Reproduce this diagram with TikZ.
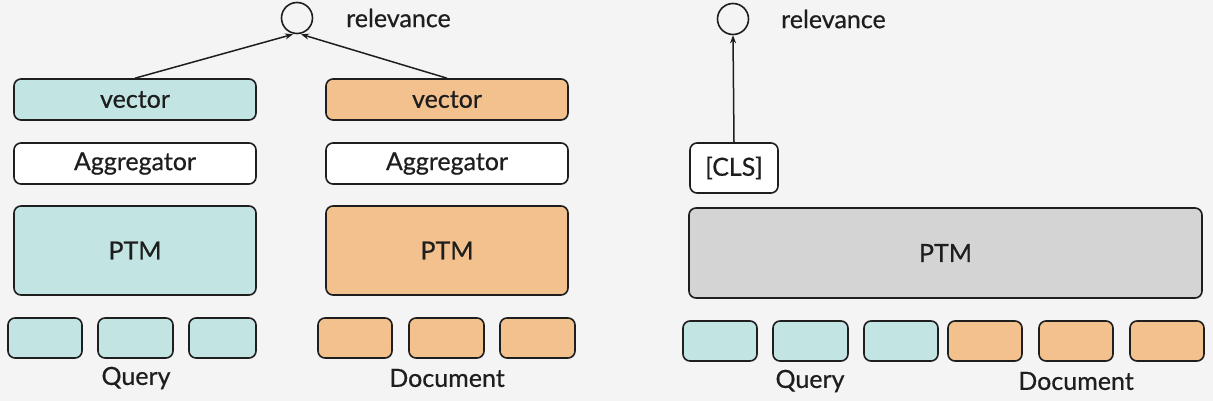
\documentclass[tikz,border=0pt]{standalone}
\usepackage{fontspec}
\setmainfont[FakeBold=0.6,AutoFakeBold=0.6]{Lato}
\usetikzlibrary{arrows.meta}
\definecolor{bgc}{HTML}{F4F4F4}
\definecolor{teal}{HTML}{C2E5E4}
\definecolor{orng}{HTML}{F3C18D}
\definecolor{grayf}{HTML}{D4D4D4}
\definecolor{ink}{HTML}{1E1E1E}
\begin{document}
\begin{tikzpicture}[x=1pt,y=-1pt,
  box/.style={draw=ink,line width=1.6pt,rounded corners=7pt,inner sep=0pt,font=\fontsize{25}{27}\selectfont,text=ink},
  tok/.style={box,minimum height=40pt},
  lbl/.style={font=\fontsize{25}{27}\selectfont,text=ink,inner sep=0pt},
  circ/.style={draw=ink,line width=1.6pt,circle,minimum size=31pt,inner sep=0pt},
  arr/.style={draw=ink,line width=1.5pt,-{Stealth[length=8pt,width=6pt]}}]
\fill[bgc] (0,0) rectangle (1213,401);
\useasboundingbox (0,0) rectangle (1213,401);
% left panel
\node[circ] (c1) at (297,18) {};
\node[lbl,anchor=west] (r1) at (346,18) {relevance};
\node[box,fill=teal,minimum width=242pt,minimum height=41pt] (vq) at (135,99.5) {vector};
\node[box,fill=orng,minimum width=242pt,minimum height=41pt] (vd) at (447,99.5) {vector};
\node[box,fill=white,minimum width=242pt,minimum height=41pt] (aq) at (135,163.5) {Aggregator};
\node[box,fill=white,minimum width=242pt,minimum height=41pt] (ad) at (447,163.5) {Aggregator};
\node[box,fill=teal,minimum width=242pt,minimum height=89pt] (pq) at (135,250.5) {PTM};
\node[box,fill=orng,minimum width=242pt,minimum height=89pt] (pd) at (447,250.5) {PTM};
\node[tok,fill=teal,minimum width=74pt] (q1) at (45,338) {};
\node[tok,fill=teal,minimum width=75pt] (q2) at (135.5,338) {};
\node[tok,fill=teal,minimum width=67pt] (q3) at (222.5,338) {};
\node[tok,fill=orng,minimum width=74pt] (d1) at (355,338) {};
\node[tok,fill=orng,minimum width=75pt] (d2) at (446.5,338) {};
\node[tok,fill=orng,minimum width=75pt] (d3) at (537.5,338) {};
\node[lbl] (ql) at (136,378) {Query};
\node[lbl] (dl) at (447,378) {Document};
\draw[arr] (vq.north) -- ([xshift=-4pt]c1.south);
\draw[arr] (vd.north) -- ([xshift=4pt]c1.south);
% right panel
\node[circ] (c2) at (733,19) {};
\node[lbl,anchor=west] (r2) at (781,19) {relevance};
\node[box,fill=white,minimum width=88pt,minimum height=50pt] (cls) at (734,168) {[CLS]};
\node[box,fill=grayf,minimum width=513pt,minimum height=90pt] (pj) at (945.5,253) {PTM};
\node[tok,fill=teal,minimum width=74pt] (j1) at (720,341) {};
\node[tok,fill=teal,minimum width=75pt] (j2) at (810.5,341) {};
\node[tok,fill=teal,minimum width=74pt] (j3) at (901,341) {};
\node[tok,fill=orng,minimum width=74pt] (j4) at (985,341) {};
\node[tok,fill=orng,minimum width=74pt] (j5) at (1076,341) {};
\node[tok,fill=orng,minimum width=74pt] (j6) at (1167,341) {};
\node[lbl] (jq) at (810,381) {Query};
\node[lbl] (jd) at (1076,381) {Document};
\draw[arr] (cls.north) -- (c2.south);
\end{tikzpicture}
\end{document}
